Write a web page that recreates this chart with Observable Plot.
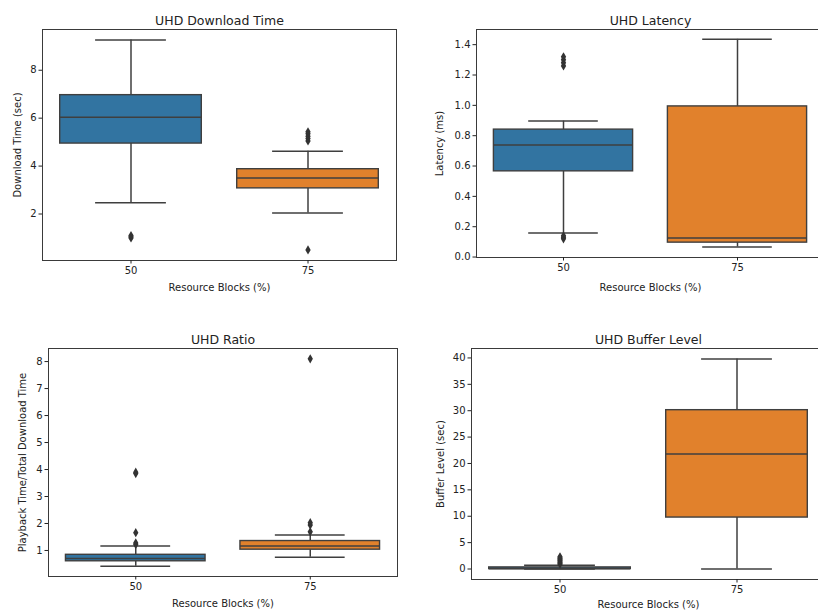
<!DOCTYPE html>
<html><head><meta charset="utf-8">
<script src="https://cdn.jsdelivr.net/npm/d3@7"></script>
<script src="https://cdn.jsdelivr.net/npm/@observablehq/plot@0.6"></script>
<style>
html,body{margin:0;padding:0;background:#fff;overflow:hidden;width:818px;height:611px;}
#wrap{position:relative;width:818px;height:611px;overflow:hidden;background:#fff;}
.panel{position:absolute;}
.panel svg{max-width:none !important;}
</style></head><body><div id="wrap"></div>
<script>
// Categories (Resource Blocks %)
const categories = ["50", "75"];
const boxColors = ["#3274a1", "#e1812c"];

// UHD Download Time (sec)
const dlMin = [2.47, 2.04];
const dlQ1 = [4.94, 3.07];
const dlMed = [6.04, 3.50];
const dlQ3 = [6.96, 3.87];
const dlMax = [9.26, 4.62];
const dlOut50 = [1.00, 1.05, 1.10];
const dlOut75 = [0.50, 5.05, 5.15, 5.25, 5.35, 5.43];

// UHD Latency (ms)
const latMin = [0.158, 0.066];
const latQ1 = [0.565, 0.095];
const latMed = [0.738, 0.125];
const latQ3 = [0.840, 0.993];
const latMax = [0.896, 1.435];
const latOut50 = [0.12, 0.13, 0.14, 1.26, 1.28, 1.30, 1.32];
const latOut75 = [];

// UHD Ratio (Playback Time / Total Download Time)
const rMin = [0.42, 0.75];
const rQ1 = [0.60, 1.03];
const rMed = [0.70, 1.17];
const rQ3 = [0.84, 1.35];
const rMax = [1.17, 1.57];
const rOut50 = [1.22, 1.28, 1.66, 3.85, 3.90];
const rOut75 = [1.69, 1.94, 2.03, 8.10];

// UHD Buffer Level (sec)
const bMin = [0.0, 0.0];
const bQ1 = [0.0, 9.75];
const bMed = [0.05, 21.8];
const bQ3 = [0.3, 30.1];
const bMax = [0.7, 39.8];
const bOut50 = [0.9, 1.1, 1.3, 1.5, 1.7, 1.9, 2.1, 2.3];
const bOut75 = [];

// Tick values
const dlTicks = [2, 4, 6, 8];
const latTicks = [0, 0.2, 0.4, 0.6, 0.8, 1.0, 1.2, 1.4];
const rTicks = [1, 2, 3, 4, 5, 6, 7, 8];
const bTicks = [0, 5, 10, 15, 20, 25, 30, 35, 40];

const LINE = "#3f3f3f";
const FONT = "DejaVu Sans";

function panel(o) {
  const stats = categories.map((c, i) => ({
    i, cat: c, min: o.mins[i], q1: o.q1s[i], med: o.meds[i], q3: o.q3s[i], max: o.maxs[i]
  }));
  const outs = o.outliers.flatMap((arr, i) => arr.map(v => ({i, v})));
  const chart = Plot.plot({
    width: o.width, height: o.height,
    marginLeft: o.ml, marginRight: o.mr, marginTop: o.mt, marginBottom: o.mb,
    style: {fontFamily: FONT, fontSize: "10px", background: "white", color: "#222", overflow: "visible", maxWidth: "none"},
    x: {type: "linear", domain: [-0.5, 1.5]},
    y: {domain: o.yDomain},
    color: {domain: categories, range: boxColors},
    marks: [
      Plot.ruleX(stats, {x: "i", y1: "q3", y2: "max", stroke: LINE, strokeWidth: 1.5}),
      Plot.ruleX(stats, {x: "i", y1: "min", y2: "q1", stroke: LINE, strokeWidth: 1.5}),
      Plot.ruleY(stats, {x1: d => d.i - 0.2, x2: d => d.i + 0.2, y: "max", stroke: LINE, strokeWidth: 1.5}),
      Plot.ruleY(stats, {x1: d => d.i - 0.2, x2: d => d.i + 0.2, y: "min", stroke: LINE, strokeWidth: 1.5}),
      Plot.rectY(stats, {x1: d => d.i - 0.4, x2: d => d.i + 0.4, y1: "q1", y2: "q3", fill: "cat", stroke: LINE, strokeWidth: 1.4}),
      Plot.ruleY(stats, {x1: d => d.i - 0.4, x2: d => d.i + 0.4, y: "med", stroke: LINE, strokeWidth: 1.5}),
      Plot.dot(outs, {x: "i", y: "v", symbol: "diamond", r: 2.8, fill: "#333", stroke: null}),
      Plot.frame({stroke: "#3a3a3a", strokeWidth: 1}),
      Plot.axisX({ticks: [0, 1], tickFormat: i => categories[i], tickSize: 3.5, tickPadding: 2.5,
        label: "Resource Blocks (%)", labelAnchor: "center", labelOffset: o.xlo, labelArrow: false, fontSize: 10}),
      Plot.axisY({ticks: o.yTicks, tickFormat: o.yFormat, tickSize: 3.5, tickPadding: 2.5,
        label: o.yLabel, labelAnchor: "center", labelOffset: o.ylo, labelArrow: false, fontSize: 10}),
      Plot.text([o.title], {text: d => d, frameAnchor: "top", lineAnchor: "bottom", dy: -5, fontSize: 12.5, fill: "#222"})
    ]
  });
  const div = document.createElement("div");
  div.className = "panel";
  div.style.left = o.left + "px";
  div.style.top = o.top + "px";
  div.style.width = o.width + "px";
  div.style.height = o.height + "px";
  div.appendChild(chart);
  document.getElementById("wrap").appendChild(div);
}

panel({left: 0, top: 0, width: 410, height: 300, ml: 42, mr: 14, mt: 29, mb: 40,
  yDomain: [0.06, 9.70], yTicks: dlTicks, yFormat: d3.format("d"),
  title: "UHD Download Time", yLabel: "Download Time (sec)", xlo: 30, ylo: 29,
  mins: dlMin, q1s: dlQ1, meds: dlMed, q3s: dlQ3, maxs: dlMax, outliers: [dlOut50, dlOut75]});

panel({left: 408, top: 0, width: 420, height: 300, ml: 68, mr: 4, mt: 29, mb: 43,
  yDomain: [-0.003, 1.50], yTicks: latTicks, yFormat: d3.format(".1f"),
  title: "UHD Latency", yLabel: "Latency (ms)", xlo: 33, ylo: 41,
  mins: latMin, q1s: latQ1, meds: latMed, q3s: latQ3, maxs: latMax, outliers: [latOut50, latOut75]});

panel({left: 0, top: 320, width: 410, height: 291, ml: 48, mr: 13, mt: 28, mb: 35,
  yDomain: [0.036, 8.484], yTicks: rTicks, yFormat: d3.format("d"),
  title: "UHD Ratio", yLabel: "Playback Time/Total Download Time", xlo: 30.5, ylo: 30,
  mins: rMin, q1s: rQ1, meds: rMed, q3s: rQ3, maxs: rMax, outliers: [rOut50, rOut75]});

panel({left: 408, top: 320, width: 420, height: 291, ml: 63, mr: 3, mt: 28, mb: 32,
  yDomain: [-1.99, 41.79], yTicks: bTicks, yFormat: d3.format("d"),
  title: "UHD Buffer Level", yLabel: "Buffer Level (sec)", xlo: 28, ylo: 35,
  mins: bMin, q1s: bQ1, meds: bMed, q3s: bQ3, maxs: bMax, outliers: [bOut50, bOut75]});
</script>
</body></html>
